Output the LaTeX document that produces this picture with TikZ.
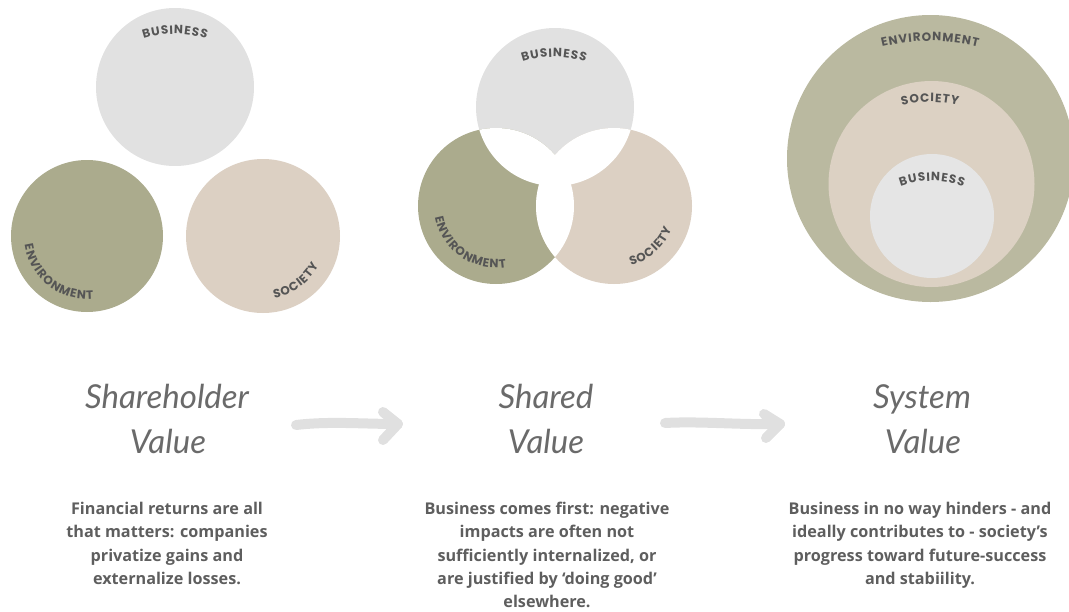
\documentclass[tikz,border=0pt]{standalone}
\usepackage{fontspec}
\usetikzlibrary{decorations.text}
\newfontfamily\lblfont{Poppins}
\newfontfamily\bodyfont{Open Sans}
\newfontfamily\titlefont{Lato}
\definecolor{bizc}{HTML}{E1E1E1}
\definecolor{envc}{HTML}{ABAB8D}
\definecolor{socc}{HTML}{DCD0C3}
\definecolor{envb}{HTML}{BAB9A0}
\definecolor{socb}{HTML}{DCD1C3}
\definecolor{bizb}{HTML}{E5E5E5}
\definecolor{lblc}{HTML}{555555}
\definecolor{bodyc}{HTML}{5E5E5E}
\definecolor{titc}{HTML}{6A6A6A}
\definecolor{arrc}{HTML}{E0E0E0}
\begin{document}
\begin{tikzpicture}[x=1pt,y=1pt,
  lbl/.style={decorate, decoration={text effects along path, text={#1}, text align=center,
     text effects/.cd, characters={text along path, text=lblc, inner xsep=0.45pt, inner ysep=0pt,
       font=\lblfont\bfseries\fontsize{12}{13}\selectfont}}},
  titletext/.style={anchor=base, text=titc, font=\titlefont\itshape\fontsize{33}{38}\selectfont, inner sep=0pt},
  bodytext/.style={anchor=north, align=center, text=bodyc, font=\bodyfont\bfseries\fontsize{16.2}{23.3}\selectfont, inner sep=0pt},
  arrowline/.style={draw=arrc, line width=10pt, line cap=round, line join=round}]
\path[use as bounding box] (0,0) rectangle (1069,-611);

% Panel 1
\fill[bizc] (175,-87) circle[radius=79];
\fill[envc] (87,-236) circle[radius=76];
\fill[socc] (263,-236) circle[radius=77];
\path[lbl=BUSINESS] (175,-134) ++(120:100) arc[start angle=120, end angle=60, radius=100];
\path[lbl=ENVIRONMENT] (87,-236) ++(172:63) arc[start angle=172, end angle=292, radius=63];
\path[lbl=SOCIETY] (263,-236) ++(266:63) arc[start angle=266, end angle=346, radius=63];

% Panel 2
\fill[bizc] (555,-107) circle[radius=79];
\fill[envc] (496,-206) circle[radius=78];
\fill[socc] (614,-206) circle[radius=78];
\begin{scope}
  \clip (555,-107) circle[radius=79];
  \fill[white] (496,-206) circle[radius=78];
  \fill[white] (614,-206) circle[radius=78];
\end{scope}
\begin{scope}
  \clip (496,-206) circle[radius=78];
  \fill[white] (614,-206) circle[radius=78];
\end{scope}
\path[lbl=BUSINESS] (554,-157) ++(120:100) arc[start angle=120, end angle=60, radius=100];
\path[lbl=ENVIRONMENT] (496,-206) ++(175:62) arc[start angle=175, end angle=295, radius=62];
\path[lbl=SOCIETY] (614,-206) ++(272:62) arc[start angle=272, end angle=352, radius=62];

% Panel 3
\fill[envb] (930.5,-158.5) circle[radius=143.5];
\fill[socb] (931.5,-184) circle[radius=103];
\fill[bizb] (932,-216) circle[radius=62];
\path[lbl=ENVIRONMENT] (930,-246) ++(108:205) arc[start angle=108, end angle=72, radius=205];
\path[lbl=SOCIETY] (930,-222) ++(115:120) arc[start angle=115, end angle=65, radius=120];
\path[lbl=BUSINESS] (932,-271) ++(125:90) arc[start angle=125, end angle=55, radius=90];

% Titles
\node[titletext] (t1a) at (167,-408) {Shareholder};
\node[titletext] (t1b) at (168,-453) {Value};
\node[titletext] (t2a) at (546,-408) {Shared};
\node[titletext] (t2b) at (546,-453) {Value};
\node[titletext] (t3a) at (922,-408) {System};
\node[titletext] (t3b) at (923,-453) {Value};

% Arrows
\coordinate (a1s) at (296,-425);
\coordinate (a1e) at (398,-424);
\coordinate (a1u) at (383,-412);
\coordinate (a1l) at (383,-440);
\draw[arrowline] (a1s) .. controls (330,-421) and (362,-424) .. (a1e);
\draw[arrowline] (a1u) -- (a1e) -- (a1l);
\coordinate (a2s) at (665,-423);
\coordinate (a2e) at (780,-424);
\coordinate (a2u) at (764,-414);
\coordinate (a2l) at (766,-438);
\draw[arrowline] (a2s) .. controls (700,-421) and (740,-425) .. (a2e);
\draw[arrowline] (a2u) -- (a2e) -- (a2l);

% Body texts
\node[bodytext] (d1) at (167,-502) {Financial returns are all\\that matters: companies\\privatize gains and\\externalize losses.};
\node[bodytext] (d2) at (547,-502) {Business comes first: negative\\impacts are often not\\sufficiently internalized, or\\are justified by ‘doing good’\\elsewhere.};
\node[bodytext] (d3) at (920,-502) {Business in no way hinders - and\\ideally contributes to - society’s\\progress toward future-success\\and stabiility.};
\end{tikzpicture}
\end{document}
